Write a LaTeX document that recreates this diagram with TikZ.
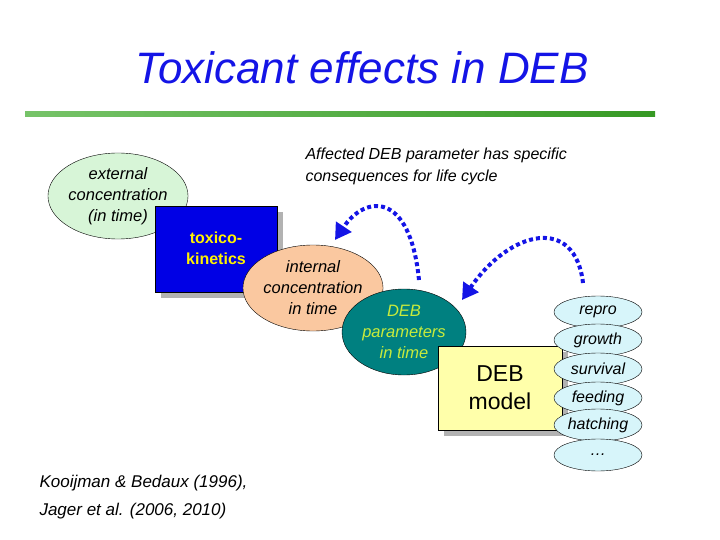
\documentclass[tikz,border=0pt]{standalone}
\usepackage{fontspec}
\setmainfont{Liberation Sans}
\usetikzlibrary{arrows.meta,shapes.geometric,shadows}
\definecolor{titleblue}{RGB}{20,20,230}
\definecolor{extgreen}{RGB}{215,245,215}
\definecolor{peach}{RGB}{250,200,160}
\definecolor{tealfill}{RGB}{0,128,128}
\definecolor{paramtext}{RGB}{200,235,60}
\definecolor{paleyellow}{RGB}{255,255,170}
\definecolor{palecyan}{RGB}{215,245,250}
\definecolor{linegreen}{RGB}{60,170,40}
\tikzset{
  blob/.style={ellipse,draw,inner sep=0pt,minimum width=124pt,minimum height=86pt,align=center,font=\fontsize{16.5}{21}\selectfont\itshape},
  box/.style={draw,inner sep=0pt,align=center,drop shadow={shadow xshift=6pt,shadow yshift=-6pt,fill=gray!60,opacity=1}},
  effect/.style={ellipse,draw,fill=palecyan,inner sep=0pt,minimum width=88pt,minimum height=32pt,font=\fontsize{16}{18}\selectfont\itshape},
  feedback/.style={draw=titleblue,line width=4pt,dash pattern=on 4pt off 3pt,-{Triangle[length=16pt,width=18pt]}}
}
\begin{document}
\begin{tikzpicture}[x=1pt,y=-1pt]
\useasboundingbox (0,0) rectangle (720,540);
% title
\node (title) at (362,68) {\fontsize{44}{48}\selectfont\itshape\color{titleblue}Toxicant effects in DEB};
\fill[left color=linegreen!70,right color=linegreen!90!black] (25,112) rectangle (655,117);
% note
\node[anchor=north west,align=left,font=\fontsize{16}{22}\selectfont\itshape] (note) at (302,144)
  {Affected DEB parameter has specific\\consequences for life cycle};
% chain
\node[blob,fill=extgreen] (ext) at (118,196) {external\\concentration\\(in time)};
\node[box,fill=blue!90!black,minimum width=122pt,minimum height=86pt] (tk) at (216,249) {};
\node[align=center,font=\fontsize{16}{21}\selectfont\bfseries,text=yellow] (tktext) at (216,248) {toxico-\\kinetics};
\node[blob,fill=peach] (int) at (313,288) {internal\\concentration\\in time};
\node[blob,fill=tealfill,text=paramtext] (par) at (404,332) {DEB\\parameters\\in time};
\node[box,fill=paleyellow,minimum width=124pt,minimum height=84pt,font=\fontsize{23}{28}\selectfont] (model) at (500,388) {DEB\\model};
% effects
\foreach \y/\t/\n in {312/repro/repro,340/growth/growth,369/survival/surv,398/feeding/feed,425/hatching/hatch,455/\dots/more}
  \node[effect] (\n) at (598,\y) {\t};
% feedback arrows
\coordinate (fromPar) at (419,280);
\coordinate (fromEff) at (583,283);
\draw[feedback] (fromPar) .. controls (410,190) and (365,195) .. (335,240);
\draw[feedback] (fromEff) .. controls (575,215) and (510,230) .. (462,300);
% reference
\node[anchor=north west,align=left,font=\fontsize{17}{28}\selectfont\itshape] (ref) at (36,472)
  {Kooijman \& Bedaux (1996),\\Jager et al. (2006, 2010)};
\end{tikzpicture}
\end{document}
